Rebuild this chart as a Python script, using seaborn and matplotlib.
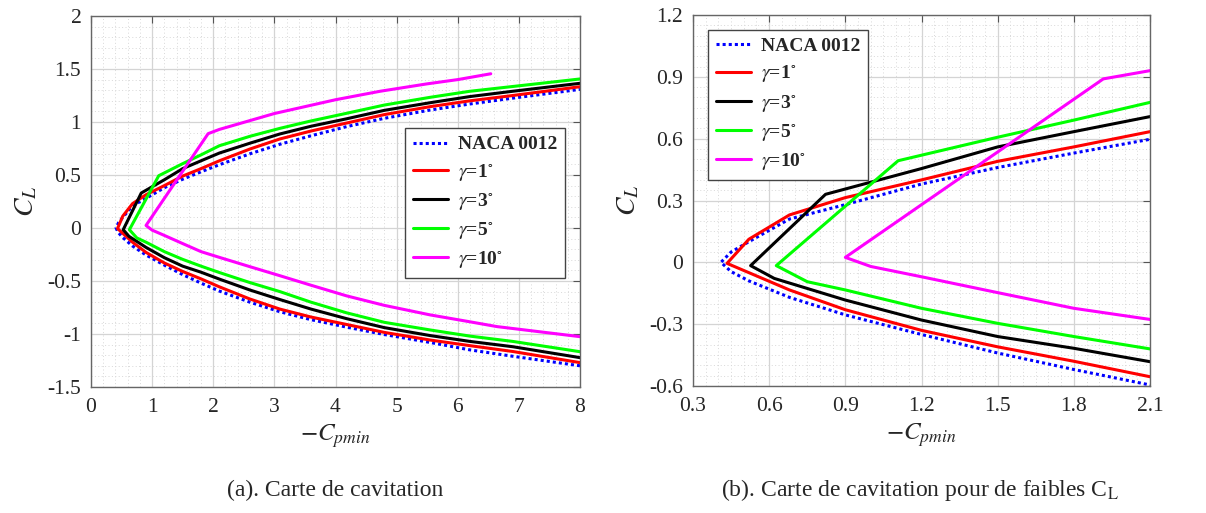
import matplotlib
matplotlib.use("Agg")
import matplotlib.pyplot as plt
import seaborn as sns
import pandas as pd
from matplotlib.ticker import MultipleLocator, FuncFormatter

# --- data (-Cpmin, CL), lower branch -> vertex -> upper branch
naca_x = [8.0, 6.9, 6.2, 5.55, 4.8, 4.18, 3.6, 3.09, 2.6, 2.1, 1.8, 1.5, 1.2, 0.9, 0.68, 0.52, 0.45, 0.41,
          0.45, 0.52, 0.68, 0.9, 1.2, 1.5, 1.8, 2.1, 2.6, 3.09, 3.6, 4.18, 4.8, 5.55, 6.2, 6.9, 8.0]
naca_y = [-1.30, -1.21, -1.15, -1.08, -1.005, -0.935, -0.865, -0.79, -0.70, -0.595, -0.52, -0.44, -0.35,
          -0.255, -0.17, -0.09, -0.045, 0.0,
          0.05, 0.10, 0.21, 0.28, 0.38, 0.46, 0.53, 0.597, 0.70, 0.79, 0.87, 0.956, 1.035, 1.113, 1.17,
          1.225, 1.308]

g1_x = [8.0, 6.9, 6.2, 5.55, 4.8, 4.18, 3.6, 3.09, 2.6, 2.1, 1.8, 1.5, 1.2, 0.9, 0.68, 0.52, 0.434,
        0.52, 0.68, 0.9, 1.2, 1.5, 1.8, 2.1, 2.6, 3.09, 3.6, 4.18, 4.8, 5.55, 6.2, 6.9, 8.0]
g1_y = [-1.27, -1.165, -1.11, -1.057, -0.985, -0.91, -0.84, -0.765, -0.67, -0.555, -0.48, -0.41, -0.33,
        -0.23, -0.134, -0.05, -0.005,
        0.112, 0.23, 0.314, 0.40, 0.49, 0.56, 0.634, 0.745, 0.84, 0.915, 0.99, 1.07, 1.145, 1.20,
        1.25, 1.333]

g3_x = [8.0, 6.9, 6.2, 5.55, 4.8, 4.18, 3.6, 3.09, 2.6, 2.1, 1.8, 1.5, 1.2, 0.9, 0.62, 0.527,
        0.822, 1.2, 1.5, 1.8, 2.1, 2.6, 3.09, 3.6, 4.18, 4.8, 5.55, 6.2, 6.9, 8.0]
g3_y = [-1.223, -1.12, -1.07, -1.015, -0.94, -0.855, -0.765, -0.675, -0.585, -0.482, -0.417, -0.36,
        -0.28, -0.183, -0.078, -0.016,
        0.33, 0.455, 0.56, 0.634, 0.707, 0.80, 0.887, 0.96, 1.03, 1.11, 1.182, 1.24, 1.29, 1.365]

g5_x = [8.0, 6.9, 6.2, 5.55, 4.8, 4.18, 3.6, 3.09, 2.6, 2.1, 1.8, 1.5, 1.2, 0.9, 0.75, 0.628,
        1.108, 1.5, 1.8, 2.1, 2.6, 3.09, 3.6, 4.18, 4.8, 5.55, 6.2, 6.9, 8.0]
g5_y = [-1.167, -1.07, -1.02, -0.962, -0.89, -0.80, -0.70, -0.60, -0.515, -0.42, -0.36, -0.296,
        -0.223, -0.134, -0.094, -0.016,
        0.493, 0.607, 0.69, 0.776, 0.865, 0.94, 1.01, 1.082, 1.16, 1.233, 1.29, 1.335, 1.406]

g10_x = [8.0, 6.64, 6.2, 5.55, 4.8, 4.18, 3.6, 3.09, 2.6, 2.1, 1.8, 1.5, 1.2, 1.0, 0.9,
         1.916, 2.1, 3.0, 4.0, 4.73, 5.5, 6.0, 6.54]
g10_y = [-1.025, -0.93, -0.885, -0.82, -0.73, -0.64, -0.54, -0.45, -0.365, -0.277, -0.223, -0.147,
         -0.07, -0.02, 0.024,
         0.89, 0.93, 1.08, 1.21, 1.29, 1.36, 1.40, 1.455]

labels = ["NACA 0012", r"$\gamma$=1$^{\circ}$", r"$\gamma$=3$^{\circ}$",
          r"$\gamma$=5$^{\circ}$", r"$\gamma$=10$^{\circ}$"]
colors = ["#0000FF", "#FF0000", "#000000", "#00FF00", "#FF00FF"]

left_xticks = [0, 1, 2, 3, 4, 5, 6, 7, 8]
left_yticks = [-1.5, -1, -0.5, 0, 0.5, 1, 1.5, 2]
right_xticks = [0.3, 0.6, 0.9, 1.2, 1.5, 1.8, 2.1]
right_yticks = [-0.6, -0.3, 0, 0.3, 0.6, 0.9, 1.2]

captions = ["(a). Carte de cavitation",
            r"(b). Carte de cavitation pour de faibles C$_\mathrm{L}$"]

series = [(naca_x, naca_y), (g1_x, g1_y), (g3_x, g3_y), (g5_x, g5_y), (g10_x, g10_y)]

sns.set_style("white")
plt.rcParams["font.family"] = ["Liberation Serif", "DejaVu Serif"]
plt.rcParams["mathtext.fontset"] = "stix"
plt.rcParams["axes.unicode_minus"] = False

fig = plt.figure(figsize=(12.06, 5.13), dpi=100)
ax1 = fig.add_axes([91 / 1206, 1 - 387 / 513, 489 / 1206, 371 / 513])
ax2 = fig.add_axes([693 / 1206, 1 - 386 / 513, 457 / 1206, 371 / 513])


def draw_panel(ax, xticks, yticks, xminor, yminor, legend_loc, legend_anchor):
    for (xs, ys), lab, col in zip(series, labels, colors):
        df = pd.DataFrame({"x": xs, "y": ys})
        ls = (0, (1, 1)) if lab.startswith("NACA") else "-"
        sns.lineplot(data=df, x="x", y="y", sort=False, estimator=None, ax=ax,
                     color=col, lw=2.2, linestyle=ls, label=lab)
    ax.set_xlim(xticks[0], xticks[-1])
    ax.set_ylim(yticks[0], yticks[-1])
    ax.set_xticks(xticks)
    ax.set_yticks(yticks)
    ax.xaxis.set_minor_locator(MultipleLocator(xminor))
    ax.yaxis.set_minor_locator(MultipleLocator(yminor))
    fmt = FuncFormatter(lambda v, p: "%g" % round(v, 3))
    ax.xaxis.set_major_formatter(fmt)
    ax.yaxis.set_major_formatter(fmt)
    ax.grid(which="major", color="#d4d4d4", lw=0.9, ls="-")
    ax.grid(which="minor", color="#d8d8d8", lw=0.7, ls=(0, (1, 2.5)))
    ax.set_axisbelow(True)
    ax.tick_params(which="major", direction="in", length=5, top=True, right=True,
                   labelsize=15.5, color="#555555")
    ax.tick_params(which="minor", length=0)
    ax.tick_params(axis="x", pad=8)
    ax.tick_params(axis="y", pad=7)
    for s in ax.spines.values():
        s.set_color("#666666")
        s.set_linewidth(1.0)
    ax.set_xlabel(r"$-C_{pmin}$", fontsize=18, labelpad=4)
    ax.set_ylabel(r"$C_L$", fontsize=20, labelpad=6)
    leg = ax.legend(loc=legend_loc, bbox_to_anchor=legend_anchor, borderaxespad=0,
                    fancybox=False, edgecolor="#444444", framealpha=1,
                    prop={"weight": "bold", "size": 14}, handlelength=1.8,
                    labelspacing=0.42, handletextpad=0.5, borderpad=0.4)
    leg.get_frame().set_linewidth(1.0)


draw_panel(ax1, left_xticks, left_yticks, 0.2, 0.1, "upper right", (0.969, 0.698))
draw_panel(ax2, right_xticks, right_yticks, 0.05, 0.05, "upper left", (0.033, 0.96))

fig.text(335 / 1206, 1 - 490 / 513, captions[0], ha="center", va="center", fontsize=17)
fig.text(920 / 1206, 1 - 490 / 513, captions[1], ha="center", va="center", fontsize=17)

fig.savefig("out.png", dpi=100)
